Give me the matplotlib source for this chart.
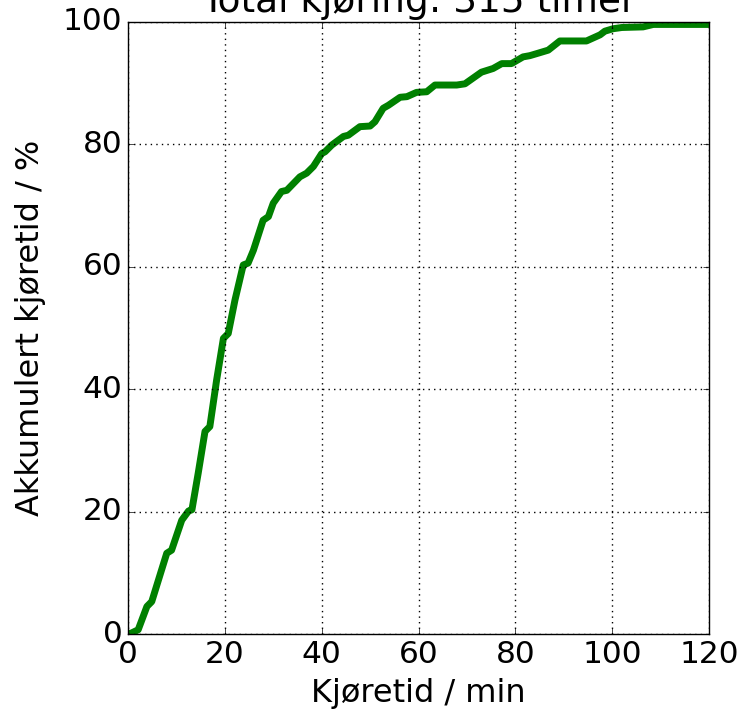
import matplotlib
matplotlib.use('Agg')
import matplotlib.pyplot as plt

# cumulative driving time distribution
minutes = [0, 0.8, 2.1, 3.9, 4.9, 8.0, 9.0, 11.1, 12.5, 13.2, 14.5, 15.9, 16.9,
           18.3, 19.7, 20.7, 22.1, 23.8, 24.8, 25.9, 27.9, 29.0, 30.0, 31.7,
           32.8, 35.5, 36.9, 38.3, 40.0, 40.7, 42.1, 44.5, 45.5, 47.9, 50.0,
           51.0, 52.7, 53.8, 56.2, 57.6, 59.6, 61.7, 63.4, 67.9, 69.6, 73.0,
           75.4, 77.2, 79.2, 81.6, 83.0, 84.7, 86.8, 89.2, 94.7, 96.1, 97.5,
           98.5, 100.2, 102.0, 106.4, 108.5, 120]
cum_pct = [0, 0.2, 0.7, 4.5, 5.3, 13.2, 13.7, 18.6, 20.1, 20.3, 26.3, 33.1, 33.9,
           41.5, 48.3, 49.1, 54.6, 60.3, 60.6, 62.7, 67.6, 68.2, 70.4, 72.3,
           72.5, 74.7, 75.3, 76.4, 78.5, 78.8, 79.9, 81.3, 81.5, 82.9, 83.0,
           83.7, 85.9, 86.4, 87.7, 87.8, 88.5, 88.6, 89.7, 89.7, 89.9, 91.8,
           92.4, 93.2, 93.2, 94.3, 94.5, 94.9, 95.4, 96.9, 96.9, 97.4, 97.9,
           98.5, 98.9, 99.1, 99.2, 99.6, 99.6]

plt.style.use('classic')
plt.rcParams['font.family'] = 'DejaVu Sans'
plt.rcParams['font.size'] = 23

fig = plt.figure(figsize=(7.5, 7.14), dpi=100)
ax = fig.add_axes([0.1707, 0.1120, 0.7746, 0.8572])
ax.plot(minutes, cum_pct, color='green', linewidth=5)
ax.set_xlim(0, 120)
ax.set_ylim(0, 100)
ax.grid(True, color='black', linestyle=':', linewidth=1)
ax.tick_params(labelsize=22.5)
ax.set_xlabel("Kjøretid / min", fontsize=23, labelpad=7)
ax.set_ylabel("Akkumulert kjøretid / %", fontsize=23, labelpad=12)
ax.set_title("Total kjøring: 315 timer", fontsize=27, pad=7)

fig.savefig("out.png", dpi=100, facecolor='white')
